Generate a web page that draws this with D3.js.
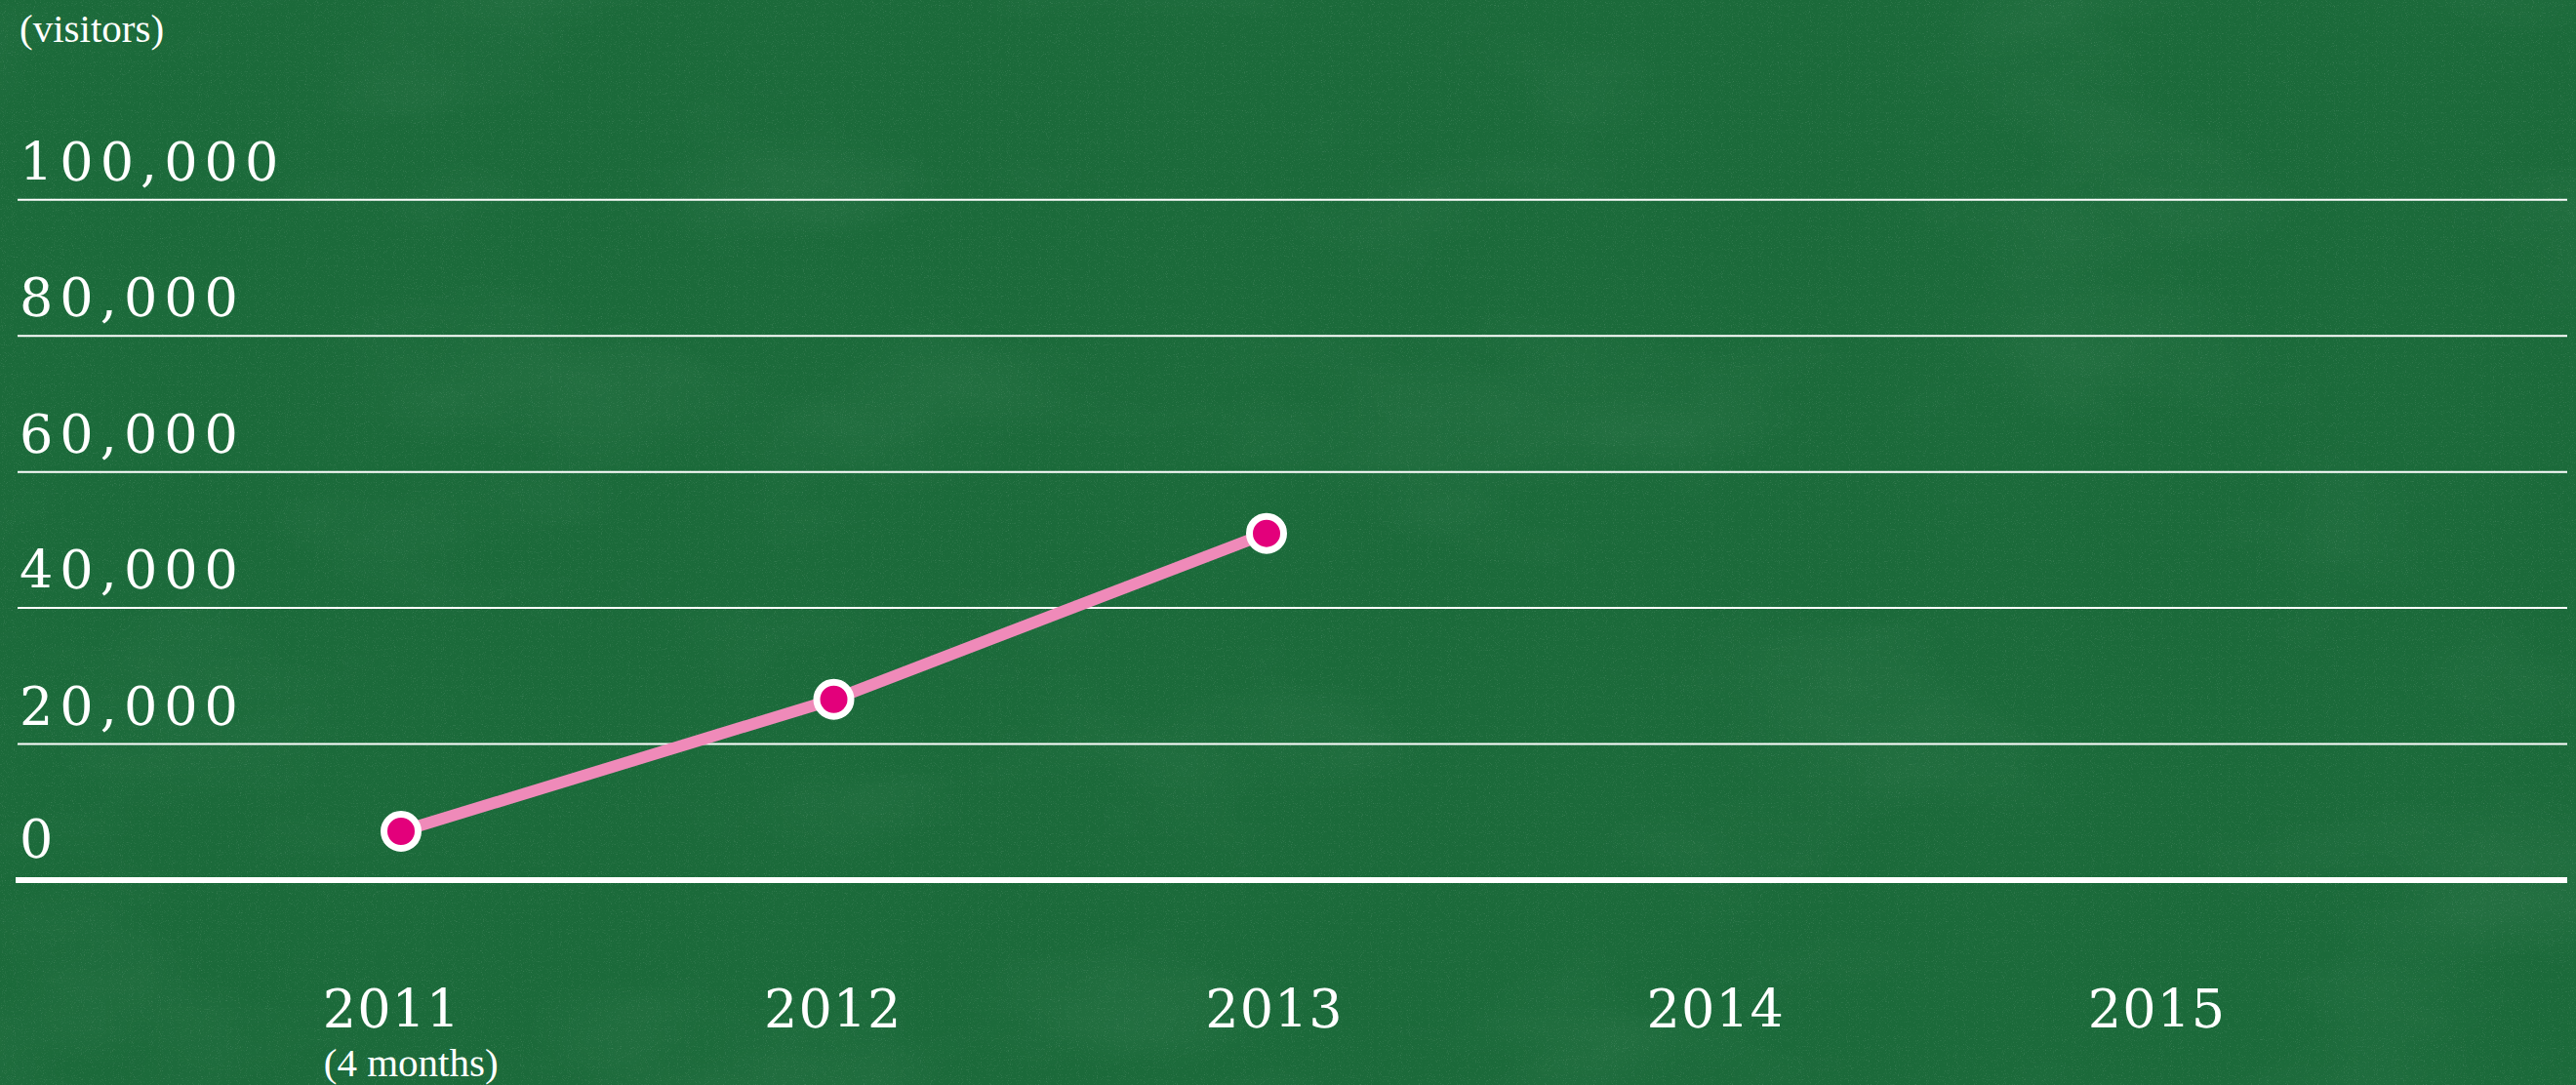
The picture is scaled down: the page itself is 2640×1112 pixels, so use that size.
<!DOCTYPE html>
<html>
<head>
<meta charset="utf-8">
<script src="https://cdn.jsdelivr.net/npm/d3@7"></script>
<style>
  html, body { margin: 0; padding: 0; background: #1b6a3a; }
  svg { display: block; }
  text { font-family: "Liberation Serif", "DejaVu Serif", serif; fill: #ffffff; }
  .num { font-family: "DejaVu Serif", "Liberation Serif", serif; }
</style>
</head>
<body>
<svg id="chart" width="2640" height="1112"></svg>
<script>
// ---- data ----
const years = ["2011", "2012", "2013", "2014", "2015"];
const yearNotes = ["(4 months)", "", "", "", ""];
const visitorYears = ["2011", "2012", "2013"];
const visitors = [7100, 26500, 50900];
const yTicks = [0, 20000, 40000, 60000, 80000, 100000];
const yTitle = "(visitors)";

const W = 2640, H = 1112;
const svg = d3.select("#chart");

// background + chalkboard texture
const defs = svg.append("defs");
const fNoise = defs.append("filter").attr("id", "speckle").attr("x", 0).attr("y", 0).attr("width", "100%").attr("height", "100%");
fNoise.append("feTurbulence").attr("type", "fractalNoise").attr("baseFrequency", 0.9).attr("numOctaves", 2).attr("seed", 3);
fNoise.append("feColorMatrix").attr("type", "matrix")
  .attr("values", "0 0 0 0 1  0 0 0 0 1  0 0 0 0 1  0 0 0 2.2 -1.25");
const fBlot = defs.append("filter").attr("id", "blot").attr("x", 0).attr("y", 0).attr("width", "100%").attr("height", "100%");
fBlot.append("feTurbulence").attr("type", "fractalNoise").attr("baseFrequency", "0.003 0.006").attr("numOctaves", 4).attr("seed", 11);
fBlot.append("feColorMatrix").attr("type", "matrix")
  .attr("values", "0 0 0 0 1  0 0 0 0 1  0 0 0 0 1  0 0 0 1.2 -0.6");

svg.append("rect").attr("width", W).attr("height", H).attr("fill", "#1b6a3a");
svg.append("rect").attr("width", W).attr("height", H).attr("filter", "url(#blot)").attr("opacity", 0.08);
svg.append("rect").attr("width", W).attr("height", H).attr("filter", "url(#speckle)").attr("opacity", 0.18);

// ---- scales ----
const y = d3.scaleLinear().domain([0, 100000]).range([901.5, 204.3]);
const x = d3.scalePoint().domain(years).range([411, 2185]);
const xLabel = d3.scalePoint().domain(years).range([400, 2209]);

// ---- y gridlines + labels via axis ----
const yAxis = d3.axisRight(y).tickValues(yTicks).tickSize(2613).tickFormat(d3.format(","));
const gy = svg.append("g").attr("transform", "translate(18,0)").call(yAxis);
gy.select(".domain").remove();
gy.selectAll(".tick line")
  .attr("stroke", "#ffffff")
  .attr("stroke-width", d => d === 0 ? 6 : 2)
  .attr("x1", d => d === 0 ? -2 : 0);
gy.selectAll(".tick text")
  .attr("class", "num")
  .attr("x", 2)
  .attr("dy", null)
  .attr("y", d => d === 0 ? -23 : -20)
  .attr("text-anchor", "start")
  .style("font-size", "54px")
  .style("letter-spacing", "7px")
  .attr("fill", "#ffffff");

// y title
svg.append("text").attr("x", 20).attr("y", 43)
  .style("font-size", "41px").text(yTitle);

// ---- x labels via axis ----
const xAxis = d3.axisBottom(xLabel).tickSize(0);
const gx = svg.append("g").attr("transform", "translate(0,1053)").call(xAxis);
gx.select(".domain").remove();
gx.selectAll(".tick text")
  .attr("class", "num")
  .attr("y", 0).attr("dy", null)
  .attr("dx", 1)
  .style("font-size", "54px")
  .style("letter-spacing", "1px")
  .attr("fill", "#ffffff");

// notes under year labels (left aligned with year label)
gx.selectAll(".tick").each(function(d, i) {
  if (!yearNotes[i]) return;
  const t = d3.select(this).select("text").node().getBBox();
  d3.select(this).append("text")
    .attr("x", t.x + 1).attr("y", 50)
    .attr("text-anchor", "start")
    .style("font-size", "41px")
    .attr("fill", "#ffffff")
    .text(yearNotes[i]);
});

// ---- line ----
const pts = visitorYears.map((yr, i) => ({ yr, v: visitors[i] }));
const line = d3.line().x(d => x(d.yr)).y(d => y(d.v));
svg.append("path").datum(pts)
  .attr("d", line)
  .attr("fill", "none")
  .attr("stroke", "#ef8ab9")
  .attr("stroke-width", 12)
  .attr("stroke-linecap", "butt");

svg.append("g").selectAll("circle").data(pts).join("circle")
  .attr("cx", d => x(d.yr))
  .attr("cy", d => y(d.v))
  .attr("r", 17.5)
  .attr("fill", "#e3007b")
  .attr("stroke", "#ffffff")
  .attr("stroke-width", 7);
</script>
</body>
</html>
